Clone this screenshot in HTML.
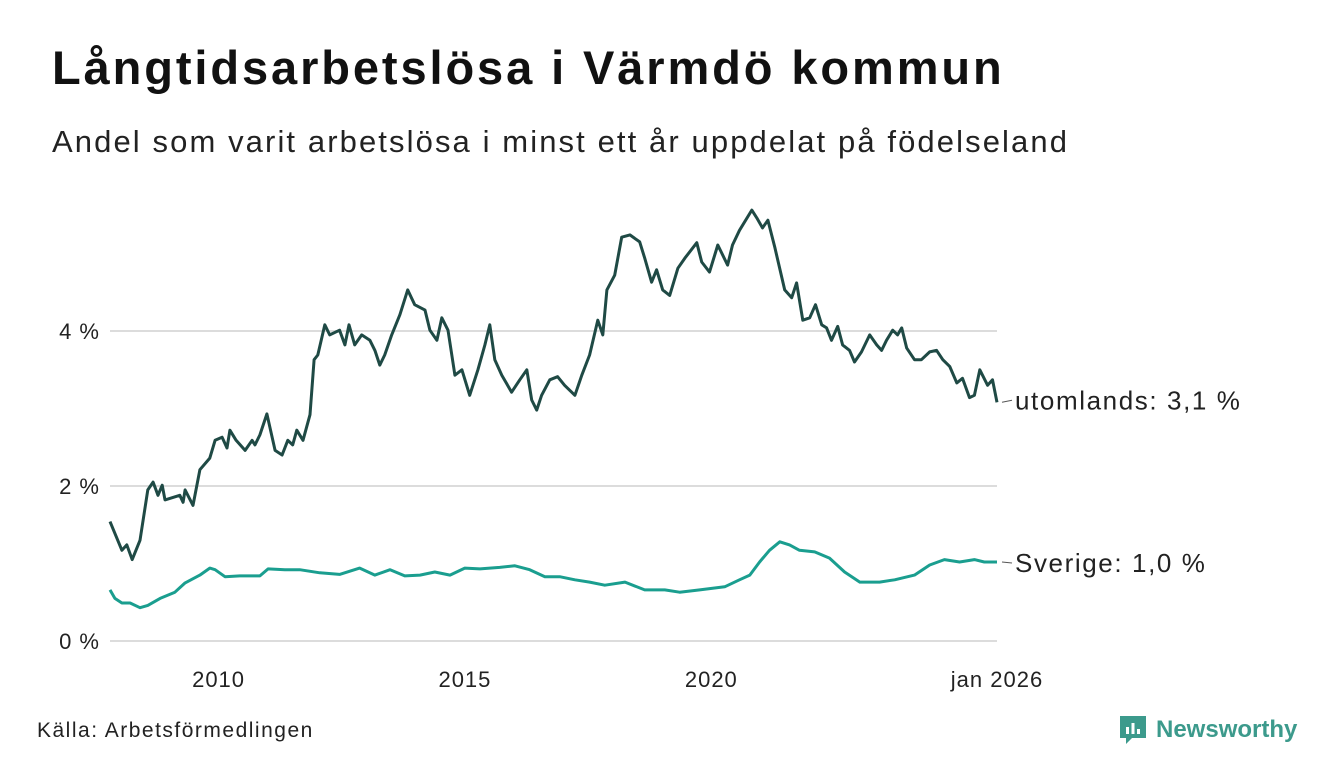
<!DOCTYPE html>
<html><head><meta charset="utf-8">
<style>
body{margin:0;background:#fff;font-family:"Liberation Sans",sans-serif;}
#wrap{position:relative;width:1340px;height:780px;overflow:hidden;}
h1{position:absolute;left:52px;top:40px;margin:0;font-size:47px;font-weight:bold;color:#111;letter-spacing:2.9px;white-space:nowrap}
h2{position:absolute;left:52px;top:124px;margin:0;font-size:31px;font-weight:normal;color:#222;letter-spacing:2.1px;white-space:nowrap}
#src{position:absolute;left:37px;top:719px;font-size:21px;color:#222;letter-spacing:1.5px}
#logo{position:absolute;left:1118px;top:714px;display:flex;align-items:center;gap:8px;font-size:24px;font-weight:bold;color:#3c9a8c}
</style></head><body>
<div id="wrap">
<h1>Långtidsarbetslösa i Värmdö kommun</h1>
<h2>Andel som varit arbetslösa i minst ett år uppdelat på födelseland</h2>
<svg id="chart" width="1340" height="780" style="position:absolute;left:0;top:0"></svg>
<div id="src">Källa: Arbetsförmedlingen</div>
<div id="logo">
<svg width="30" height="32" viewBox="0 0 30 32"><path d="M2 2h26v22H14l-6 6v-6H2z" fill="#3c9a8c"/><rect x="8" y="13" width="3" height="7" fill="#fff"/><rect x="13.5" y="9" width="3" height="11" fill="#fff"/><rect x="19" y="15" width="3" height="5" fill="#fff"/></svg>
<span>Newsworthy</span></div>
</div>
<script>
const utMonths=[0,2.9,4.1,5.4,7.3,9.2,10.5,11.7,12.7,13.4,17,17.8,18.3,20.2,21.9,24.3,25.6,27.3,28.5,29.2,30.7,32.9,34.6,35.3,36.5,38.2,40.2,41.9,43.3,44.5,45.5,47,48.7,49.7,50.6,52.3,53.5,55.9,57.2,58.2,59.6,61.3,63.3,64.5,65.7,66.9,68.6,70.6,72.5,74.2,76.7,77.9,79.6,80.8,82.3,84,85.7,87.6,89.6,91.3,92.5,93.7,95.4,97.8,99.8,101.5,102.7,103.9,105.1,107.1,109,110.7,113.2,114.9,116.8,118.8,120,121,122.9,124.6,126.6,129,130.2,131.9,133.1,134.6,136.3,138.3,140,142.9,144.1,146,148,150.4,151.6,153.3,156.3,157.5,158.9,160.2,161.9,164.3,166,167.2,168.7,170.4,171.8,173.3,174.5,175.7,177.2,178.4,180.1,181.3,183,185,186.7,187.9,189.1,190.6,191.8,192.8,194,195.9,197.6,199.6,201.3,202.8,204.5,206.2,207.6,209.3,210.5,211.8,213.7,214.9,216];
const utValues=[1.54,1.17,1.24,1.05,1.30,1.95,2.05,1.88,2.01,1.82,1.88,1.79,1.95,1.75,2.21,2.36,2.59,2.63,2.49,2.72,2.59,2.46,2.59,2.53,2.66,2.93,2.46,2.40,2.59,2.53,2.72,2.59,2.92,3.63,3.69,4.08,3.95,4.01,3.82,4.08,3.82,3.95,3.88,3.75,3.56,3.69,3.95,4.21,4.53,4.34,4.27,4.01,3.88,4.17,4.01,3.43,3.50,3.17,3.50,3.82,4.08,3.63,3.43,3.21,3.37,3.50,3.11,2.98,3.17,3.37,3.41,3.30,3.17,3.43,3.69,4.14,3.95,4.53,4.72,5.21,5.24,5.15,4.94,4.63,4.79,4.53,4.46,4.81,4.94,5.14,4.89,4.76,5.11,4.85,5.11,5.30,5.56,5.46,5.33,5.43,5.08,4.53,4.43,4.62,4.14,4.17,4.34,4.08,4.04,3.88,4.06,3.82,3.75,3.60,3.73,3.95,3.82,3.75,3.88,4.01,3.95,4.04,3.78,3.63,3.63,3.73,3.75,3.63,3.54,3.33,3.39,3.14,3.17,3.50,3.30,3.37,3.08];
const svMonths=[0,1.2,2.9,4.9,7.3,9.2,12.2,15.8,18.3,21.9,24.3,25.6,28,31.6,36.5,38.5,42.6,46.2,51.1,55.9,60.8,64.5,68.2,71.8,75.5,79.1,82.8,86.4,90.1,94.9,98.6,102.2,105.9,109.5,113.2,116.8,120.5,125.4,130.2,135.1,138.7,143.6,149.7,153.3,155.8,158.2,160.6,163.1,165.5,167.9,171.6,175.2,178.9,182.6,187.4,191.1,195.9,199.6,203.2,206.9,210.5,212.9,216];
const svValues=[0.66,0.55,0.49,0.49,0.43,0.46,0.55,0.63,0.75,0.85,0.94,0.92,0.83,0.84,0.84,0.93,0.92,0.92,0.88,0.86,0.94,0.85,0.92,0.84,0.85,0.89,0.85,0.94,0.93,0.95,0.97,0.92,0.83,0.83,0.79,0.76,0.72,0.76,0.66,0.66,0.63,0.66,0.70,0.79,0.85,1.02,1.17,1.28,1.24,1.17,1.15,1.07,0.89,0.76,0.76,0.79,0.85,0.98,1.05,1.02,1.05,1.02,1.02];
const yTicks=[0,2,4];
const yTickLabels=["0 %","2 %","4 %"];
const xTickMonths=[24,84,144,216];
const xTickLabels=["2010","2015","2020","jan 2026"];
const seriesLabels=["utomlands: 3,1 %","Sverige: 1,0 %"];

const NS="http://www.w3.org/2000/svg";
const svg=document.getElementById('chart');
const x0=110,x1=997,y0=641,pxPerPct=77.5,maxM=216;
const xs=m=>x0+(m/maxM)*(x1-x0);
const ys=v=>y0-v*pxPerPct;
function mk(tag,attrs){const e=document.createElementNS(NS,tag);for(const k in attrs)e.setAttribute(k,attrs[k]);svg.appendChild(e);return e;}
yTicks.forEach((t,i)=>{
  const g=mk('line',{x1:x0,x2:x1,y1:ys(t),y2:ys(t),stroke:'#dcdcdc','stroke-width':2});
  
  
  const tx=mk('text',{x:100,y:ys(t)+8,'text-anchor':'end','font-size':22,'letter-spacing':1,fill:'#222','font-family':'Liberation Sans, sans-serif'});
  tx.textContent=yTickLabels[i];
  
  
});
xTickMonths.forEach((m,i)=>{
  const tx=mk('text',{x:xs(m)+(i==3?0:10),y:687,'text-anchor':'middle','font-size':22,'letter-spacing':1,fill:'#222','font-family':'Liberation Sans, sans-serif'});
  tx.textContent=xTickLabels[i];
  
  
});
function line(ms,vs,color,name){
  const d=ms.map((m,i)=>(i?'L':'M')+xs(m).toFixed(1)+','+ys(vs[i]).toFixed(1)).join('');
  const p=mk('path',{d:d,fill:'none',stroke:color,'stroke-width':3,'stroke-linejoin':'round'});
  
  
}
line(utMonths,utValues,'#1f4a45','line-utomlands');
line(svMonths,svValues,'#1a9e8f','line-sverige');
[[utValues,0],[svValues,1]].forEach(([vs,i])=>{
  const y=ys(vs[vs.length-1]);
  const ly=i==0?y-2:y+1;
  const c=mk('line',{x1:x1+5,x2:x1+15,y1:y,y2:ly,stroke:'#555','stroke-width':1});
  
  
  const t=mk('text',{x:x1+18,y:ly+9,'font-size':26,'letter-spacing':1.6,fill:'#222','font-family':'Liberation Sans, sans-serif'});
  t.textContent=seriesLabels[i];
  
  
});
</script>
</body></html>
